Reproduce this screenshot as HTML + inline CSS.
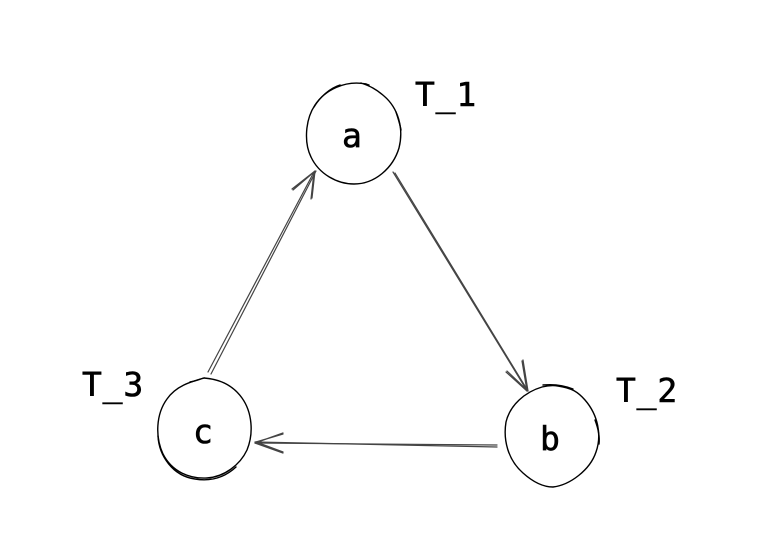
<!DOCTYPE html>
<html>
<head>
<meta charset="utf-8">
<style>
html,body{margin:0;padding:0;background:#fff;width:772px;height:559px;overflow:hidden}
svg{display:block}
text{font-family:"DejaVu Sans Mono","Liberation Mono",monospace;font-size:33px;letter-spacing:0.8px;fill:#000;stroke:#000;stroke-width:0.6px}
</style>
</head>
<body>
<svg width="772" height="559" viewBox="0 0 772 559" xmlns="http://www.w3.org/2000/svg">
<g fill="none" stroke="#000" stroke-width="1.4" stroke-linecap="round" stroke-linejoin="round">
<!-- circle a -->
<path d="M366 84 C345 80 325 90 315 105 C305 120 304 143 311 157 C319 174 337 184 354 184 C375 184 393 168 399 148 C404 128 398 108 384 96 C376 89 370 86 361 83"/>
<path d="M340 85 C330 88 320 97 314 107 M396 112 C398 118 400 124 401 130 M366 84 L369 85"/>
<!-- circle b -->
<path d="M542 387 C525 392 510 405 506 422 C503 440 508 460 523 473 C533 482 543 487 553 487 C570 485 590 470 596 452 C602 435 598 415 585 400 C578 392 572 388 558 386 C552 385 546 386 542 387"/>
<path d="M543 385 C553 384 563 385 573 389 M595 420 C598 428 600 436 599 444"/>
<!-- circle c -->
<path d="M204 378 C190 382 176 386 167 399 C156 414 155 437 163 454 C172 472 190 479 207 478 C224 477 240 465 247 450 C254 433 252 412 242 398 C232 384 218 379 204 378"/>
<path d="M158 436 C159 456 173 476 195 479 C207 481 222 480 236 467 M190 382 C196 381 200 379 204 378"/>
</g>
<g fill="none" stroke="#444" stroke-width="1.2" stroke-linecap="round">
<!-- c to a -->
<path d="M208 372 L314 172"/>
<path d="M211 374 L316 171"/>
<path d="M293 190 L314 172 M292 189 L315 171"/>
<path d="M311 199 L314 172 M312 198 L315 171"/>
<!-- a to b -->
<path d="M393 172 L526 389"/>
<path d="M395 173 L528 391"/>
<path d="M506 372 L527 391 M507 371 L528 391"/>
<path d="M522 361 L527 391 M523 360 L528 391"/>
<!-- b to c -->
<path d="M497 445 L255 443"/>
<path d="M497 447 L255 442"/>
<path d="M283 433 L255 443 M283 434 L256 442"/>
<path d="M283 453 L255 443 M283 452 L256 442"/>
</g>
<text x="415" y="106">T_1</text>
<text x="616" y="402">T_2</text>
<text x="82" y="396">T_3</text>
<text x="342" y="147">a</text>
<text x="540" y="450">b</text>
<text x="193" y="443">c</text>
</svg>
</body>
</html>
